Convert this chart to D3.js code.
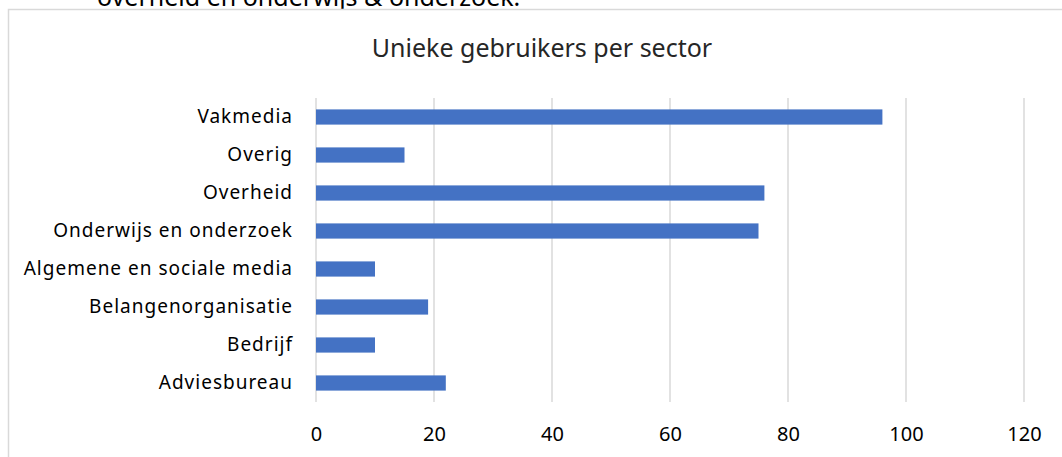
<!DOCTYPE html>
<html>
<head>
<meta charset="utf-8">
<script src="https://cdn.jsdelivr.net/npm/d3@7"></script>
<style>
  body { margin: 0; background: #fff; }
  svg { display: block; }
</style>
</head>
<body>
<div id="chart"></div>
<script>
// data (top to bottom)
var sectors = ["Vakmedia", "Overig", "Overheid", "Onderwijs en onderzoek",
  "Algemene en sociale media", "Belangenorganisatie", "Bedrijf", "Adviesbureau"];
var users = [96, 15, 76, 75, 10, 19, 10, 22];
var xTicks = [0, 20, 40, 60, 80, 100, 120];

var width = 1062, height = 457;
var font = "'Noto Sans', 'Open Sans', sans-serif";

var svg = d3.select("#chart").append("svg")
  .attr("width", width)
  .attr("height", height);

// line of text above the chart, cut off by the top edge as in the source
svg.append("text")
  .attr("x", 97)
  .attr("y", 6)
  .style("font", "25px " + font)
  .style("fill", "#000")
  .text("overheid en onderwijs & onderzoek.");

// chart border (runs off the right/bottom edge)
svg.append("rect")
  .attr("x", 8.5)
  .attr("y", 9.5)
  .attr("width", 1100)
  .attr("height", 500)
  .style("fill", "#fff")
  .style("stroke", "#d9d9d9")
  .style("stroke-width", 1.5);

svg.append("text")
  .attr("x", 542)
  .attr("y", 57)
  .attr("text-anchor", "middle")
  .style("font", "25px " + font)
  .style("fill", "#262626")
  .text("Unieke gebruikers per sector");

var x = d3.scaleLinear()
  .domain([0, 120])
  .range([316, 1024]);

var y = d3.scaleBand()
  .domain(sectors)
  .range([98, 402])
  .paddingInner(0.6)
  .paddingOuter(0.3);

// gridlines
svg.append("g")
  .selectAll("line")
  .data(xTicks)
  .enter()
  .append("line")
  .attr("x1", function(d){ return x(d); })
  .attr("x2", function(d){ return x(d); })
  .attr("y1", 98)
  .attr("y2", 402)
  .style("stroke", "#d9d9d9")
  .style("stroke-width", 1.5);

// x tick labels
var xAxis = d3.axisBottom(x).tickValues(xTicks).tickSize(0).tickPadding(0);
var gx = svg.append("g")
  .attr("transform", "translate(0,427)")
  .call(xAxis);
gx.select(".domain").remove();
gx.selectAll("text")
  .attr("dy", "0.71em")
  .style("font", "20px " + font)
  .style("fill", "#000");

// y labels
var yAxis = d3.axisLeft(y).tickSize(0).tickPadding(23);
var gy = svg.append("g")
  .attr("transform", "translate(316,0)")
  .call(yAxis);
gy.select(".domain").remove();
gy.selectAll("text")
  .style("font", "19px " + font)
  .style("letter-spacing", "1px")
  .style("fill", "#000");

// bars
svg.append("g")
  .selectAll("rect")
  .data(users)
  .enter()
  .append("rect")
  .attr("x", x(0))
  .attr("y", function(d, i){ return y(sectors[i]); })
  .attr("width", function(d){ return x(d) - x(0); })
  .attr("height", y.bandwidth())
  .style("fill", "#4472c4");
</script>
</body>
</html>
